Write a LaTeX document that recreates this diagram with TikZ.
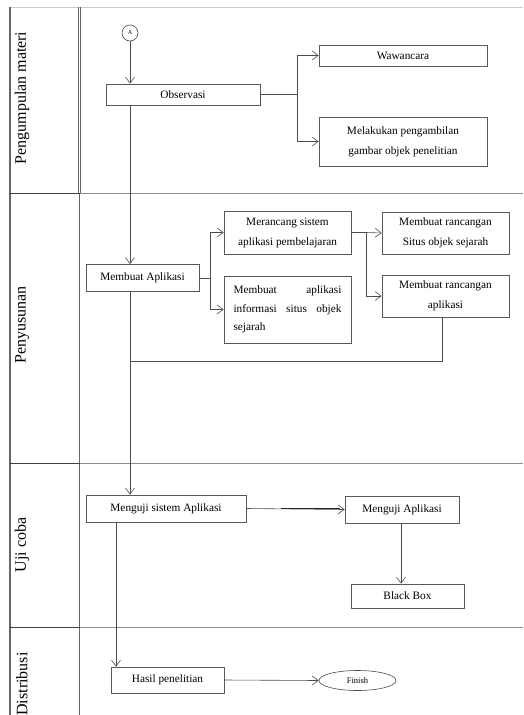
\documentclass[tikz,border=0pt]{standalone}
\usepackage{fontspec}
\setmainfont{Liberation Serif}
\usetikzlibrary{arrows.meta,shapes.geometric,positioning}

\tikzset{
  box/.style={draw=black!65, line width=0.7pt, rectangle, inner sep=0pt, font=\fontsize{11.3}{14}\selectfont, align=center},
  flow/.style={draw=black!70, line width=0.6pt},
  arr/.style={flow, -{Straight Barb[length=6pt,width=9pt,line width=0.6pt]}},
  lane/.style={font=\fontsize{16}{18}\selectfont, rotate=90, anchor=center},
  frame/.style={draw=black!60, line width=1.2pt},
  sep/.style={draw=black!45, line width=0.6pt}
}

\begin{document}
\begin{tikzpicture}[x=1pt,y=-1pt]
\useasboundingbox (0,0) rectangle (523,715);

% swimlane frame
\draw[draw=black!20, line width=0.6pt] (10,7) -- (523,7);
\draw[frame] (10,7) -- (10,715);
\draw[draw=black!60, line width=0.5pt] (78,7) -- (78,193);
\draw[draw=black!60, line width=0.5pt] (80.5,7) -- (80.5,193);
\draw[frame] (79.5,193) -- (79.5,715);
\foreach \yy in {193,463,627}{
  \draw[draw=black!75, line width=0.9pt] (10,\yy) -- (80,\yy);
  \draw[sep] (80,\yy) -- (523,\yy);
}

% lane titles
\node[lane] (l1) at (22,98) {Pengumpulan materi};
\node[lane] (l2) at (22,325) {Penyusunan};
\node[lane] (l3) at (22,545) {Uji coba};
\node[lane] (l4) at (22,684) {Distribusi};

% Pengumpulan materi
\node[draw=black!70, line width=0.6pt, circle, minimum size=16pt, inner sep=0pt, font=\fontsize{6}{7}\selectfont] (A) at (130,33) {A};
\node[box, minimum width=154pt, minimum height=21pt] (obs) at (183,94.5) {Observasi};
\node[box, minimum width=168pt, minimum height=21pt] (waw) at (403,55.5) {Wawancara};
\node[box, minimum width=168pt, minimum height=49pt, font=\fontsize{11.3}{20}\selectfont] (mel) at (403,141.5) {Melakukan pengambilan\\gambar objek penelitian};

% Penyusunan
\node[box, minimum width=113pt, minimum height=27pt] (mba) at (142.5,278) {Membuat Aplikasi};
\node[box, minimum width=127pt, minimum height=43pt, font=\fontsize{11.3}{20}\selectfont] (mrc) at (287.5,232.5) {Merancang sistem\\aplikasi pembelajaran};
\node[box, minimum width=127pt, minimum height=67pt, font=\fontsize{11.3}{18.5}\selectfont, align=left] (mai) at (287.5,309.5) {\makebox[108pt][s]{Membuat aplikasi}\\\makebox[108pt][s]{informasi situs objek}\\sejarah\hspace*{71pt}};
\node[box, minimum width=127pt, minimum height=42pt, font=\fontsize{11.3}{19.5}\selectfont] (rss) at (445.5,233) {Membuat rancangan\\Situs objek sejarah};
\node[box, minimum width=127pt, minimum height=42pt, font=\fontsize{11.3}{19.5}\selectfont] (rap) at (445.5,296) {Membuat rancangan\\aplikasi};

% Uji coba
\node[box, minimum width=160pt, minimum height=27pt] (msa) at (166,508.5) {Menguji sistem Aplikasi};
\node[box, minimum width=114pt, minimum height=27pt] (mapl) at (402,509.5) {Menguji Aplikasi};
\node[box, minimum width=113pt, minimum height=24pt] (bb) at (407.5,596) {Black Box};

% Distribusi
\node[box, minimum width=113pt, minimum height=26pt] (hsl) at (167.5,680) {Hasil penelitian};
\node[draw=black!70, line width=0.6pt, ellipse, minimum width=77pt, minimum height=20pt, inner sep=0pt, font=\fontsize{8.5}{10}\selectfont] (fin) at (357.5,680.5) {Finish};

% junction points
\coordinate (j1) at (297,94.5);
\coordinate (j2) at (210,278);
\coordinate (j3) at (366,232.5);
\coordinate (back) at (130,361);

% connectors
\draw[arr] (A) -- (obs.north -| A);
\draw[flow] (obs.east) -- (j1);
\draw[arr] (j1) |- (waw.west);
\draw[arr] (j1) |- (mel.west);

\draw[arr] (obs.south -| A) -- (mba.north -| A);
\draw[flow] (mba.east) -- (j2);
\draw[arr] (j2) |- (mrc.west);
\draw[arr] (j2) |- (mai.west);
\draw[flow] (mrc.east) -- (j3);
\draw[arr] (j3) -- (rss.west);
\draw[arr] (j3) |- (rap.west);
\draw[flow] (rap.south -| 442,0) |- (back);

\draw[arr] (mba.south -| A) -- (msa.north -| A);
\draw[arr] (msa.east) -- (mapl.west);
\draw[draw=black!85, line width=0.9pt] (281,508.5) -- (340,508.5);
\draw[arr] (mapl.south -| 401,0) -- (bb.north -| 401,0);
\draw[arr] (msa.south -| 116,0) -- (hsl.north -| 116,0);
\draw[arr] (hsl.east) -- (fin.west);

\end{tikzpicture}
\end{document}
